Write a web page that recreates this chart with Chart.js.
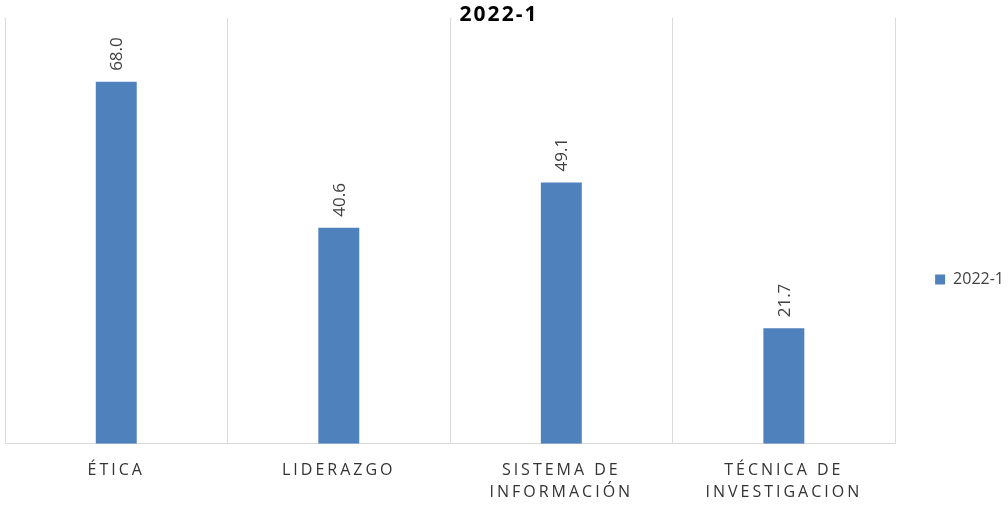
<!DOCTYPE html>
<html>
<head>
<meta charset="utf-8">
<script src="https://cdn.jsdelivr.net/npm/chart.js@4"></script>
<style>
  html, body { margin: 0; padding: 0; background: #fff; }
  #wrap { width: 1008px; height: 506px; }
</style>
</head>
<body>
<div id="wrap"><canvas id="chart"></canvas></div>
<script>
const TITLE = '2022-1';
const SERIES_NAME = '2022-1';
const categories = [
  ['ÉTICA'],
  ['LIDERAZGO'],
  ['SISTEMA DE', 'INFORMACIÓN'],
  ['TÉCNICA DE', 'INVESTIGACION']
];
const values = [68.0, 40.6, 49.1, 21.7];

Chart.defaults.font.family = "'Open Sans', sans-serif";

// x tick labels are letter-spaced in the original
const tickSpacing = {
  id: 'tickSpacing',
  afterLayout(chart) {
    const sc = chart.scales.x;
    if (!sc._spaced) {
      const orig = sc.drawLabels.bind(sc);
      sc.drawLabels = function (area) {
        this.ctx.save();
        this.ctx.letterSpacing = '3px';
        orig(area);
        this.ctx.restore();
      };
      sc._spaced = true;
    }
    // legend sits a little below the middle
    chart.legend.top += 11;
    chart.legend.bottom += 11;
  }
};

const titleText = {
  id: 'titleText',
  afterDraw(chart) {
    const ctx = chart.ctx;
    ctx.save();
    ctx.font = "bold 21px 'Open Sans', sans-serif";
    ctx.letterSpacing = '2px';
    ctx.fillStyle = '#000';
    ctx.textAlign = 'center';
    ctx.textBaseline = 'middle';
    ctx.fillText(TITLE, 499, 15);
    ctx.restore();
  }
};

const barLabels = {
  id: 'barLabels',
  afterDatasetsDraw(chart) {
    const ctx = chart.ctx;
    const meta = chart.getDatasetMeta(0);
    ctx.save();
    ctx.font = "17px 'Open Sans', sans-serif";
    ctx.fillStyle = '#404040';
    ctx.textAlign = 'left';
    ctx.textBaseline = 'middle';
    meta.data.forEach((bar, i) => {
      ctx.save();
      ctx.translate(bar.x + 1, bar.y - 11);
      ctx.rotate(-Math.PI / 2);
      ctx.fillText(values[i].toFixed(1), 0, 0);
      ctx.restore();
    });
    ctx.restore();
  }
};

new Chart(document.getElementById('chart'), {
  type: 'bar',
  data: {
    labels: categories,
    datasets: [{
      label: SERIES_NAME,
      data: values,
      backgroundColor: '#4F81BD',
      borderWidth: 0,
      barPercentage: 0.184,
      categoryPercentage: 1
    }]
  },
  options: {
    responsive: true,
    maintainAspectRatio: false,
    animation: false,
    layout: { padding: { left: 5, top: 18, right: -6, bottom: -13 } },
    plugins: {
      title: { display: false },
      tooltip: { enabled: false },
      legend: {
        position: 'right',
        labels: {
          boxWidth: 10,
          boxHeight: 10,
          padding: 40,
          color: '#404040',
          font: { size: 16 }
        }
      }
    },
    scales: {
      x: {
        grid: { color: '#d9d9d9', drawTicks: false, offset: true },
        border: { color: '#d9d9d9' },
        ticks: {
          color: '#333333',
          padding: 16,
          maxRotation: 0,
          autoSkip: false,
          font: { size: 16, lineHeight: 1.35 }
        }
      },
      y: {
        display: false,
        min: 0,
        max: 80
      }
    }
  },
  plugins: [tickSpacing, titleText, barLabels]
});
</script>
</body>
</html>
